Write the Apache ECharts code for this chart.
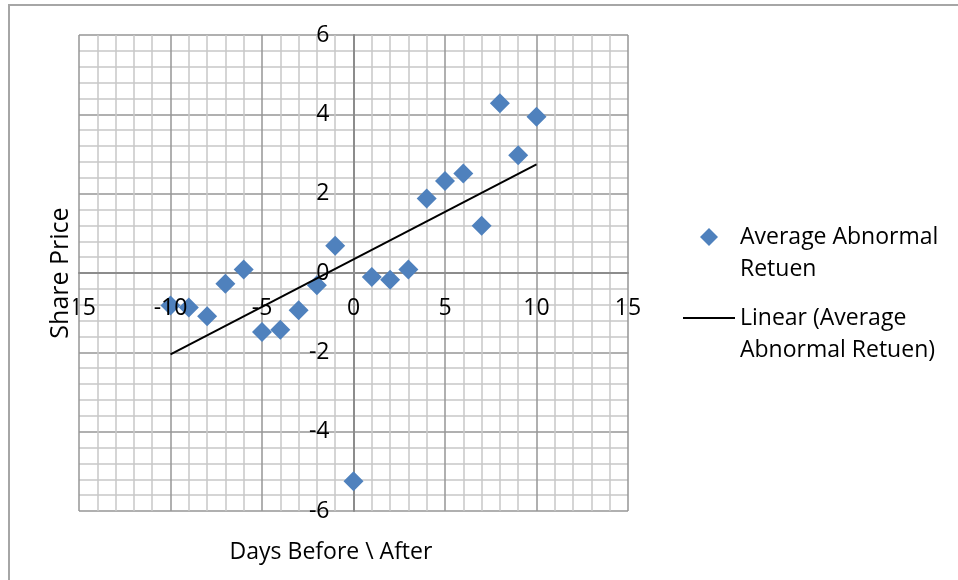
<!DOCTYPE html>
<html>
<head>
<meta charset="utf-8">
<script src="https://cdn.jsdelivr.net/npm/echarts@6/dist/echarts.min.js"></script>
<style>
html,body{margin:0;padding:0;background:#fff;}
#chart{width:958px;height:580px;}
</style>
</head>
<body>
<div id="chart"></div>
<script>
// ---- data ----
const days = [-10, -9, -8, -7, -6, -5, -4, -3, -2, -1, 0, 1, 2, 3, 4, 5, 6, 7, 8, 9, 10];
const abnormalReturn = [-0.82, -0.87, -1.09, -0.27, 0.09, -1.49, -1.43, -0.94, -0.31, 0.69, -5.25,
                        -0.10, -0.17, 0.09, 1.88, 2.32, 2.51, 1.19, 4.28, 2.97, 3.94];
const trendDays = [-10, 10];
const trendValues = [-2.05, 2.74];
const seriesNames = ['Average Abnormal Retuen', 'Linear (Average Abnormal Retuen)'];
const legendLabels = ['Average Abnormal\nRetuen', 'Linear (Average\nAbnormal Retuen)'];
const xTitle = 'Days Before \\ After';
const yTitle = 'Share Price';

// ---- chart ----
const FONT = '"Open Sans", sans-serif';
const chart = echarts.init(document.getElementById('chart'), null, {renderer: 'canvas'});

const scatterData = days.map((d, i) => [d, abnormalReturn[i]]);
const trendData = trendDays.map((d, i) => [d, trendValues[i]]);

const GRID = {left: 79, top: 35, width: 549, height: 476};

// grid-line axes (drawn under the marks)
function gridAxis(min, max, interval, offset) {
  return {
    type: 'value', gridIndex: 0, min: min, max: max, interval: interval, offset: offset,
    axisLine: {show: true, onZero: false, lineStyle: {color: '#8c8c8c', width: 2}},
    axisTick: {show: false},
    axisLabel: {show: false},
    splitLine: {show: true, lineStyle: {color: '#969696', width: 1.5}},
    minorTick: {show: false, splitNumber: 5},
    minorSplitLine: {show: true, lineStyle: {color: '#c8c8c8', width: 1.5}}
  };
}
// label axes (drawn above the marks)
function labelAxis(min, max, interval, offset) {
  return {
    type: 'value', gridIndex: 1, min: min, max: max, interval: interval, offset: offset, z: 10,
    axisLine: {show: false, onZero: false},
    axisTick: {show: false},
    axisLabel: {margin: 24, fontSize: 23, fontFamily: FONT, color: '#000',
                showMinLabel: true, showMaxLabel: true, hideOverlap: false},
    splitLine: {show: false}
  };
}

const legendCommon = {
  orient: 'vertical', padding: 0,
  itemWidth: 52, symbolKeepAspect: true,
  formatter: name => '\n' + legendLabels[seriesNames.indexOf(name)],
  textStyle: {fontSize: 23, fontFamily: FONT, color: '#000', lineHeight: 32}
};

const gridRect = {left: GRID.left, top: GRID.top, width: GRID.width, height: GRID.height, outerBoundsMode: 'none'};

chart.setOption({
  animation: false,
  backgroundColor: '#fff',
  grid: [Object.assign({}, gridRect), Object.assign({}, gridRect)],
  xAxis: [gridAxis(-15, 15, 5, -GRID.height / 2), labelAxis(-15, 15, 5, -GRID.height / 2)],
  yAxis: [gridAxis(-6, 6, 2, -GRID.width / 2), labelAxis(-6, 6, 2, -GRID.width / 2)],
  legend: [
    Object.assign({}, legendCommon, {left: 700, top: 189, itemHeight: 18,
      data: [{name: seriesNames[0], icon: 'path://M26,0L35,9L26,18L17,9Z', itemStyle: {color: '#4f81bd'}}]}),
    Object.assign({}, legendCommon, {left: 683, top: 270, itemHeight: 2,
      data: [{name: seriesNames[1], icon: 'rect', itemStyle: {color: '#000'}}]})
  ],
  series: [
    {
      name: seriesNames[0], type: 'scatter', data: scatterData, xAxisIndex: 0, yAxisIndex: 0,
      symbol: 'diamond', symbolSize: 20,
      itemStyle: {color: '#4f81bd', opacity: 1}, z: 2
    },
    {
      name: seriesNames[1], type: 'line', data: trendData, xAxisIndex: 0, yAxisIndex: 0,
      symbol: 'none', showSymbol: false,
      lineStyle: {color: '#000', width: 2}, itemStyle: {color: '#000'}, z: 3
    }
  ],
  graphic: [
    {type: 'rect', shape: {x: 9, y: 5, width: 1200, height: 1000},
     style: {fill: 'none', stroke: '#a6a6a6', lineWidth: 2}, z: -10, silent: true},
    {type: 'text', x: 331, y: 552, z: 100,
     style: {text: xTitle, fontSize: 23, fontFamily: FONT, fill: '#000', align: 'center', verticalAlign: 'middle'}},
    {type: 'text', x: 61, y: 273, rotation: Math.PI / 2, z: 100,
     style: {text: yTitle, fontSize: 25, fontFamily: FONT, fill: '#000', align: 'center', verticalAlign: 'middle',
             backgroundColor: '#fff', padding: [0, 2, 0, 2]}}
  ]
});
</script>
</body>
</html>
